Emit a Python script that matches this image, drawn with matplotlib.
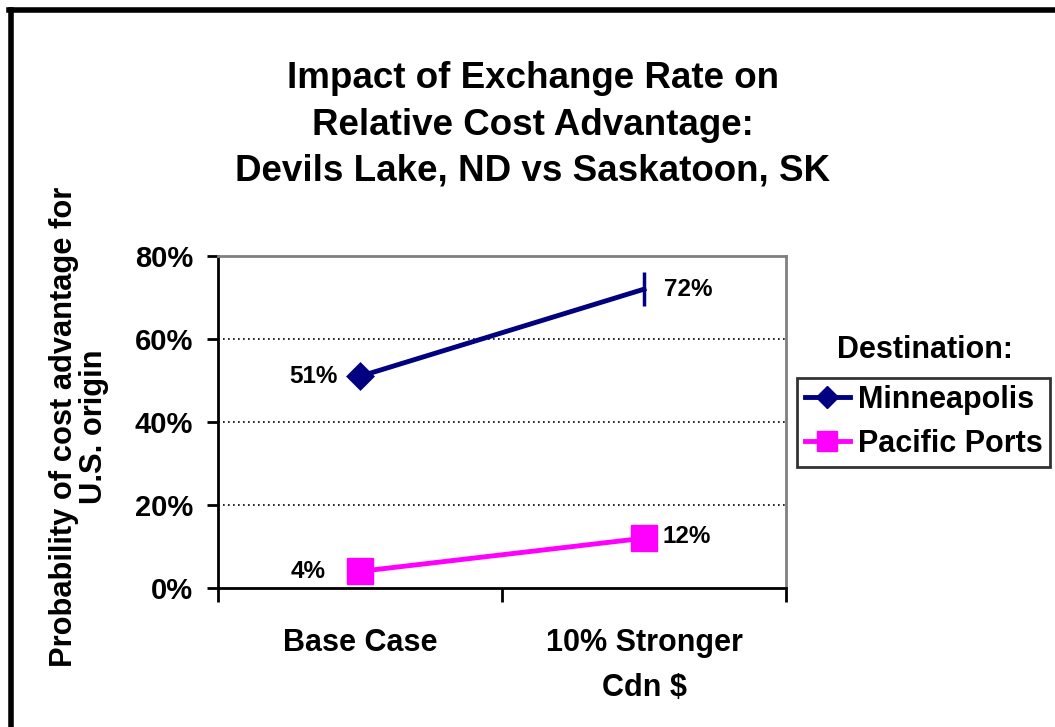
import matplotlib.pyplot as plt
from matplotlib.lines import Line2D

categories = ["Base Case", "10% Stronger\nCdn $"]
minneapolis = [51, 72]
pacific = [4, 12]
minneapolis_markers = ["D", "|"]
y_ticks = [0, 20, 40, 60, 80]

plt.rcParams["font.family"] = ["Liberation Sans", "DejaVu Sans"]
plt.rcParams["font.weight"] = "bold"

fig = plt.figure(figsize=(10.55, 7.27), dpi=100)
ax = fig.add_axes([0.2066, 0.1912, 0.5384, 0.4567])

x = list(range(len(categories)))
navy = "#000080"
magenta = "#FF00FF"

ax.plot(x, minneapolis, color=navy, lw=3.5, zorder=3)
for xi, yi, m in zip(x, minneapolis, minneapolis_markers):
    ax.plot([xi], [yi], marker=m, color=navy, ms=12 if m == "D" else 24,
            mew=2.5, zorder=4)
ax.plot(x, pacific, color=magenta, lw=3.5, marker="s", ms=18.5, zorder=3)

for xi, yi, dx, ha in zip(x, minneapolis, [-0.08, 0.07], ["right", "left"]):
    ax.text(xi + dx, yi, f"{yi}%", ha=ha, va="center", fontsize=17.5, fontweight="bold")
for xi, yi, dx, ha in zip(x, pacific, [-0.12, 0.065], ["right", "left"]):
    ax.text(xi + dx, yi + (0 if xi == 0 else 0.5), f"{yi}%", ha=ha, va="center",
            fontsize=17.5, fontweight="bold")

ax.set_xlim(-0.5, 1.5)
ax.set_ylim(0, 80)
ax.set_yticks(y_ticks)
ax.set_yticklabels([f"{v}%" for v in y_ticks], fontsize=21, fontweight="bold")
ax.set_xticks([-0.5, 0.5, 1.5])
ax.set_xticklabels([])
ax.set_xticks(x, minor=True)
ax.set_xticklabels(categories, minor=True, fontsize=22, fontweight="bold",
                   linespacing=1.65)
ax.tick_params(axis="x", which="minor", length=0, pad=29)
ax.tick_params(axis="x", which="major", length=10, width=2, direction="out")
ax.tick_params(axis="y", length=8, width=2, direction="out", pad=10)

for v in y_ticks[1:-1]:
    ax.axhline(v, color="black", lw=1.2, ls=(0, (1, 2)), zorder=1)

ax.spines["left"].set_linewidth(2)
ax.spines["bottom"].set_linewidth(2)
ax.spines["top"].set_color("#808080")
ax.spines["right"].set_color("#808080")
ax.spines["top"].set_linewidth(2)
ax.spines["right"].set_linewidth(2)

ax.set_ylabel("Probability of cost advantage for\nU.S. origin", fontsize=22.2,
              fontweight="bold", linespacing=0.98)
ax.yaxis.set_label_coords(-0.192, 0.485)

fig.text(0.505, 0.828, "Impact of Exchange Rate on\nRelative Cost Advantage:\nDevils Lake, ND vs Saskatoon, SK",
         ha="center", va="center", fontsize=26.5, fontweight="bold", linespacing=1.42)

fig.text(0.877, 0.518, "Destination:", ha="center", va="center", fontsize=22, fontweight="bold")

handles = [
    Line2D([], [], color=navy, lw=3.5, marker="D", ms=11),
    Line2D([], [], color=magenta, lw=3.5, marker="s", ms=14.5),
]
leg = fig.legend(handles, ["Minneapolis", "Pacific Ports"], loc="center",
                 bbox_to_anchor=(0.8754, 0.4195), frameon=True, fancybox=False,
                 prop={"size": 22, "weight": "bold"}, handlelength=1.48,
                 handletextpad=0.26, borderpad=0.25, labelspacing=0.45,
                 borderaxespad=0)
leg.get_frame().set_edgecolor("black")
leg.get_frame().set_linewidth(2)

# outer frame (only left and top edges fall inside the picture)
fig.add_artist(Line2D([0.0104, 0.0104], [0.0, 0.986], color="black", lw=4,
                      transform=fig.transFigure))
fig.add_artist(Line2D([0.0085, 1.0], [0.986, 0.986], color="black", lw=4,
                      transform=fig.transFigure))

fig.savefig("out.png", dpi=100)
